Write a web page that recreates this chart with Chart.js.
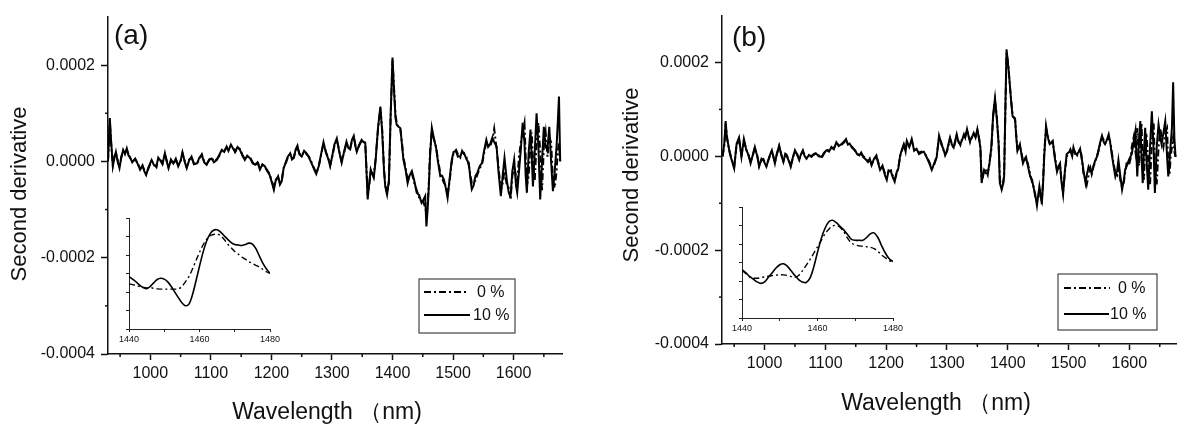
<!DOCTYPE html>
<html>
<head>
<meta charset="utf-8">
<script src="https://cdn.jsdelivr.net/npm/chart.js@4.4.0/dist/chart.umd.min.js"></script>
<style>
  html, body { margin: 0; padding: 0; background: #fff; overflow: hidden; }
  body { width: 1177px; height: 433px; position: relative; }
  canvas { position: absolute; }
</style>
</head>
<body>
<canvas id="mainA" width="590" height="433" style="left:0;top:0"></canvas>
<canvas id="mainB" width="580" height="433" style="left:600px;top:0"></canvas>
<canvas id="insetA" width="185" height="140" style="left:100px;top:208px"></canvas>
<canvas id="insetB" width="195" height="140" style="left:712px;top:196px"></canvas>
<script>
// ----------------------
// DATA (second derivative in units of 1e-6)
// ----------------------
const wlA = [
  930,933,935,938,941,943,946,949,952,955,
  958,961,964,966,970,975,979,983,987,990,
  993,997,1002,1006,1010,1013,1016,1020,1024,1027,
  1030,1034,1038,1042,1046,1050,1053,1057,1060,1064,
  1068,1072,1077,1081,1085,1089,1093,1097,1101,1105,
  1110,1114,1118,1122,1126,1129,1133,1137,1140,1144,
  1148,1152,1156,1160,1165,1169,1173,1177,1181,1185,
  1189,1193,1197,1201,1204,1207,1211,1214,1217,1220,
  1223,1227,1231,1234,1237,1240,1243,1246,1250,1254,
  1258,1262,1266,1270,1274,1278,1282,1286,1290,1294,
  1297,1301,1304,1308,1312,1316,1320,1324,1327,1330,
  1333,1336,1339,1341,1345,1349,1352,1355,1357,1359,
  1362,1364,1366,1369,1372,1376,1380,1383,1386,1388,
  1391,1394,1397,1400,1402,1405,1407,1410,1413,1416,
  1418,1422,1425,1428,1432,1436,1440,1444,1448,1451,
  1454,1456,1458,1460,1462,1465,1468,1472,1475,1479,
  1482,1485,1488,1491,1494,1498,1501,1505,1508,1512,
  1515,1518,1522,1526,1529,1531,1534,1537,1540,1544,
  1548,1551,1555,1558,1561,1565,1568,1572,1575,1579,
  1582,1585,1589,1592,1595,1598,1601,1604,1606,1609,
  1612,1615,1618,1620,1622,1625,1628,1630,1632,1635,
  1638,1641,1644,1647,1650,1653,1656,1659,1662,1665,
  1668,1671,1673,1675,1677
];
const a10 = [
  0,90,45,-10,10,20,0,-14,8,24,
  15,27,12,10,-2,6,-5,-17,-8,-20,
  -28,-12,3,-8,-10,8,3,-6,17,0,
  -14,4,-4,6,-10,2,19,-2,-14,2,
  10,-6,-4,8,13,-2,-7,4,6,-2,
  3,14,24,20,31,22,35,26,21,30,
  24,12,3,12,6,-4,-7,-2,-17,-6,
  -10,-20,-28,-45,-59,-40,-31,-48,-41,-15,
  -4,10,17,4,7,25,33,15,10,22,
  17,8,-3,-15,-26,-10,15,40,18,5,
  -10,15,35,48,20,-3,20,41,28,25,
  45,53,30,20,35,45,40,39,-20,-79,
  -40,-17,-25,-34,0,70,114,60,-20,-52,
  -69,-40,100,216,160,90,76,72,69,30,
  4,-20,-45,-30,-20,-40,-65,-70,-86,-80,
  -72,-135,-100,-52,10,70,50,28,0,-31,
  -30,-38,-55,-76,-40,4,20,21,10,11,
  20,18,5,-3,-40,-58,-50,-30,-24,-10,
  -3,20,45,30,35,50,40,31,-20,-72,
  -30,7,-41,-65,-72,-20,4,-50,-65,-20,
  25,80,40,-30,-65,20,66,10,-52,20,
  100,30,-79,0,72,30,25,72,0,-62,
  -20,31,80,135,0
];
const a0 = [
  0,85,40,-8,12,18,2,-12,10,22,
  18,25,14,8,0,4,-3,-15,-10,-18,
  -26,-14,1,-6,-12,6,5,-4,15,2,
  -12,2,-6,4,-8,0,17,0,-12,4,
  8,-4,-6,6,15,0,-5,2,8,0,
  5,12,22,22,29,24,33,28,19,28,
  26,14,5,10,8,-2,-9,0,-15,-8,
  -12,-18,-26,-42,-55,-38,-33,-45,-40,-14,
  -6,8,15,6,9,22,30,17,12,20,
  15,10,-1,-13,-24,-12,13,38,20,7,
  -8,13,32,45,22,0,18,38,30,27,
  42,50,32,22,33,43,42,37,-15,-70,
  -45,-20,-22,-30,5,65,110,65,-15,-48,
  -66,-45,95,210,165,95,80,70,66,35,
  8,-15,-40,-28,-25,-45,-60,-75,-80,-85,
  -95,-110,-90,-45,20,65,48,30,5,-25,
  -35,-45,-50,-68,-45,0,18,24,15,8,
  22,15,10,-8,-30,-45,-40,-40,-28,-15,
  -5,15,40,38,30,45,68,25,-10,-60,
  -45,-20,-50,-55,-80,-30,-10,-30,-45,10,
  40,60,80,10,-50,-30,40,60,0,-40,
  40,80,20,-60,30,60,10,50,40,-40,
  -55,-20,20,40,0
];

const wlB = [
  931,934,936,938,940,943,946,950,954,958,
  962,966,970,974,977,981,984,988,991,995,
  998,1003,1008,1012,1017,1020,1024,1028,1031,1034,
  1036,1040,1043,1047,1050,1054,1057,1060,1063,1066,
  1069,1073,1077,1081,1085,1089,1094,1098,1102,1106,
  1110,1114,1118,1122,1127,1131,1134,1137,1140,1144,
  1149,1152,1156,1159,1162,1166,1170,1173,1176,1180,
  1184,1187,1190,1194,1198,1201,1204,1208,1211,1214,
  1217,1220,1223,1226,1229,1232,1234,1238,1242,1246,
  1250,1254,1258,1262,1267,1271,1275,1279,1283,1287,
  1291,1294,1297,1300,1305,1308,1311,1316,1319,1322,
  1325,1328,1330,1333,1336,1338,1341,1344,1347,1350,
  1353,1355,1357,1359,1361,1364,1367,1370,1373,1376,
  1379,1382,1385,1387,1390,1392,1394,1396,1398,1401,
  1404,1406,1408,1412,1414,1416,1420,1423,1425,1428,
  1430,1433,1437,1440,1442,1445,1448,1450,1452,1454,
  1456,1458,1460,1463,1466,1469,1472,1474,1477,1481,
  1484,1486,1488,1491,1494,1497,1500,1503,1506,1508,
  1511,1514,1517,1519,1521,1523,1525,1528,1530,1533,
  1536,1538,1541,1544,1547,1549,1552,1555,1558,1560,
  1563,1566,1569,1571,1574,1577,1580,1582,1585,1588,
  1591,1593,1596,1599,1602,1604,1607,1610,1613,1616,
  1618,1620,1622,1624,1626,1628,1631,1634,1637,1640,
  1642,1645,1648,1651,1653,1656,1659,1662,1664,1666,
  1668,1670,1672,1674,1676
];
const b10 = [
  0,30,75,40,27,5,-8,-26,27,40,
  -1,37,13,2,-15,5,20,0,-22,-5,
  -8,-22,0,13,-15,5,23,0,-12,5,
  2,-10,-22,0,13,2,-8,5,13,0,
  -5,3,-1,5,6,0,-1,8,13,10,
  20,15,30,22,27,32,37,25,27,18,
  13,5,2,8,-1,-6,-12,-5,-19,-5,
  2,-15,-29,-20,-40,-50,-30,-33,-45,-54,
  -35,-26,2,15,26,10,33,20,37,12,
  16,5,8,10,-3,-15,-29,-15,-3,44,
  25,16,2,12,40,25,19,47,30,26,
  35,47,40,58,40,33,40,50,40,58,
  35,19,-57,-40,-29,-36,-36,-15,20,90,
  124,80,26,-57,-71,-60,-43,100,228,190,
  144,110,85,81,40,12,26,0,-15,-5,
  -1,-20,-43,-50,-64,-80,-105,-85,-64,-80,
  -102,-60,0,65,40,26,30,33,0,-33,
  -20,-15,-50,-81,-30,5,8,12,0,19,
  5,5,10,16,0,-15,-35,-57,-40,-22,
  -30,-36,-20,-8,0,12,30,44,30,26,
  35,47,25,5,-20,-43,-30,-8,-40,-71,
  -50,-29,-20,-8,0,5,30,54,-43,40,
  75,0,-57,10,61,0,-71,20,96,10,
  -78,20,68,40,26,50,75,0,-43,-10,
  26,60,158,40,-1
];
const b0 = [
  0,25,70,45,25,8,-6,-22,24,36,
  2,33,15,0,-12,3,18,2,-20,-8,
  -6,-20,-2,11,-13,3,21,2,-10,3,
  4,-8,-20,-2,11,4,-6,3,11,2,
  -3,1,1,3,8,2,-3,6,15,12,
  18,17,28,24,25,30,35,27,25,20,
  11,7,0,6,1,-4,-10,-7,-17,-7,
  0,-12,-26,-22,-36,-46,-32,-30,-42,-50,
  -38,-24,0,12,24,12,30,22,34,15,
  14,8,10,8,-1,-12,-26,-18,0,40,
  28,14,4,10,38,28,17,44,32,24,
  38,44,42,55,42,30,42,48,42,55,
  38,15,-50,-45,-32,-30,-40,-12,15,85,
  118,85,30,-50,-65,-65,-40,90,220,195,
  140,115,88,78,45,15,22,5,-10,-8,
  -5,-15,-40,-55,-60,-85,-95,-90,-70,-85,
  -95,-55,10,60,42,28,28,30,5,-28,
  -25,-20,-45,-75,-35,0,5,15,5,15,
  8,2,12,14,5,-20,-40,-45,-60,-40,
  -25,-38,-22,-12,2,10,25,40,35,28,
  32,40,30,10,-15,-35,-40,-20,-50,-65,
  -55,-35,-10,-20,-5,20,40,10,60,-20,
  30,70,-10,-50,20,50,-10,-60,30,70,
  -20,-60,20,60,40,20,50,60,-20,-40,
  0,20,40,10,-1
];

// inset: 1440-1480 nm zoom, unlabelled y axis (arbitrary units 0-6)
const insetWl = [
  1440,1441,1442,1443,1444,1445,1446,1447,1448,1449,
  1450,1451,1452,1453,1454,1455,1456,1457,1458,1459,
  1460,1461,1462,1463,1464,1465,1466,1467,1468,1469,
  1470,1471,1472,1473,1474,1475,1476,1477,1478,1479,
  1480
];
const insA10 = [
  2.84,2.70,2.55,2.38,2.25,2.18,2.30,2.50,2.68,2.75,
  2.70,2.55,2.30,2.00,1.70,1.42,1.26,1.35,1.85,2.60,
  3.40,4.15,4.75,5.15,5.35,5.37,5.25,5.05,4.85,4.68,
  4.58,4.55,4.52,4.58,4.65,4.60,4.35,3.95,3.55,3.25,
  3.02
];
const insA0 = [
  2.44,2.40,2.35,2.30,2.25,2.22,2.25,2.20,2.17,2.16,
  2.16,2.16,2.16,2.16,2.17,2.30,2.55,2.84,3.25,3.70,
  4.15,4.55,4.85,5.05,5.12,5.15,5.05,4.85,4.60,4.40,
  4.20,4.05,3.90,3.78,3.65,3.55,3.45,3.35,3.22,3.10,
  3.02
];
const insB10 = [
  2.61,2.45,2.25,2.10,1.95,1.87,1.95,2.20,2.45,2.70,
  2.88,2.93,2.80,2.55,2.30,2.08,1.95,1.92,2.15,2.75,
  3.55,4.30,4.85,5.20,5.28,5.15,4.95,4.75,4.50,4.25,
  4.20,4.20,4.20,4.35,4.55,4.60,4.35,3.90,3.50,3.20,
  3.05
];
const insB0 = [
  2.58,2.40,2.22,2.15,2.15,2.18,2.22,2.26,2.30,2.32,
  2.34,2.33,2.30,2.24,2.20,2.30,2.55,2.85,3.15,3.50,
  3.85,4.20,4.55,4.80,4.98,5.00,4.90,4.65,4.30,4.05,
  3.95,3.90,3.88,3.85,3.82,3.75,3.60,3.40,3.25,3.10,
  3.02
];

const seriesNames = ["0 %", "10 %"];
const xTitle = "Wavelength （nm)";
const yTitle = "Second derivative";
const xTickVals = [950, 1000, 1050, 1100, 1150, 1200, 1250, 1300, 1350, 1400, 1450, 1500, 1550, 1600, 1650];
const xLabelVals = [1000, 1100, 1200, 1300, 1400, 1500, 1600];
const yTickVals = [-400, -300, -200, -100, 0, 100, 200];
const yLabelVals = [-400, -200, 0, 200];
const insetXTickVals = [1440, 1450, 1460, 1470, 1480];
const insetXLabelVals = [1440, 1460, 1480];

// ----------------------
// SHARED STYLE
// ----------------------
const FONT = '"Liberation Sans", Arial, Helvetica, sans-serif';
Chart.defaults.font.family = FONT;
Chart.defaults.color = "#111";
const DASHDOT = [7, 3, 2, 3];

const pts = (xs, ys) => xs.map((x, i) => ({ x: x, y: ys[i] }));
const fixTicks = vals => s => { s.ticks = vals.map(v => ({ value: v })); };

// short minor ticks (major ones come from chart.js grid)
function minorTickPlugin(len) {
    return {
        id: "minorTicks",
        afterDraw(chart) {
            const ctx = chart.ctx;
            ctx.save();
            ctx.strokeStyle = "#111";
            ctx.lineWidth = 1.5;
            const sx = chart.scales.x, sy = chart.scales.y;
            sx.ticks.forEach((t, i) => {
                if (xLabelVals.includes(t.value)) return;
                const p = sx.getPixelForTick(i);
                ctx.beginPath(); ctx.moveTo(p, sx.top); ctx.lineTo(p, sx.top + len); ctx.stroke();
            });
            sy.ticks.forEach((t, i) => {
                if (yLabelVals.includes(t.value)) return;
                const p = sy.getPixelForTick(i);
                ctx.beginPath(); ctx.moveTo(sy.right, p); ctx.lineTo(sy.right - len, p); ctx.stroke();
            });
            ctx.restore();
        }
    };
}

// axis titles, framed legend box inside the plot, panel tag
function decorPlugin(L) {
    return {
        id: "decor",
        afterDraw(chart) {
            const ctx = chart.ctx;
            const lg = L.legend, tag = L.tag;
            ctx.save();
            ctx.fillStyle = "#111";
            ctx.textAlign = "center";
            ctx.textBaseline = "middle";
            ctx.font = "23px " + FONT;
            ctx.fillText(xTitle, L.xTitle.x, L.xTitle.y);
            ctx.save();
            ctx.translate(L.yTitle.x, L.yTitle.y);
            ctx.rotate(-Math.PI / 2);
            ctx.font = "22px " + FONT;
            ctx.fillText(yTitle, 0, 0);
            ctx.restore();

            ctx.textAlign = "left";
            ctx.strokeStyle = "#444";
            ctx.lineWidth = 1.2;
            ctx.strokeRect(lg.x, lg.y, lg.w, lg.h);
            chart.data.datasets.forEach((ds, i) => {
                const r = lg.rows[i];
                ctx.strokeStyle = "#000";
                ctx.lineWidth = 2;
                ctx.setLineDash(ds.borderDash || []);
                ctx.beginPath(); ctx.moveTo(r.x1, r.y); ctx.lineTo(r.x2, r.y); ctx.stroke();
                ctx.setLineDash([]);
                ctx.font = "16px " + FONT;
                ctx.fillText(ds.label, r.tx, r.y + 1);
            });
            ctx.font = "28px " + FONT;
            ctx.textBaseline = "alphabetic";
            ctx.fillText(tag.text, tag.x, tag.y);
            ctx.restore();
        }
    };
}

// ----------------------
// MAIN PANELS
// ----------------------
function mainChart(id, wl, s0, s10, L) {
    new Chart(document.getElementById(id), {
        type: "line",
        data: {
            datasets: [
                { label: seriesNames[0], data: pts(wl, s0), borderColor: "#000", borderWidth: 2, borderDash: DASHDOT },
                { label: seriesNames[1], data: pts(wl, s10), borderColor: "#000", borderWidth: 2 }
            ]
        },
        options: {
            responsive: false,
            animation: false,
            events: [],
            layout: { padding: { top: L.top, right: L.right, left: 0, bottom: 0 } },
            elements: { point: { radius: 0 }, line: { tension: 0 } },
            plugins: { legend: { display: false }, tooltip: { enabled: false } },
            scales: {
                x: {
                    type: "linear", min: 930, max: 1680,
                    afterBuildTicks: fixTicks(xTickVals),
                    afterFit: s => { s.height = L.xH; },
                    border: { color: "#111", width: 1.5 },
                    grid: { drawOnChartArea: false, tickLength: 6, tickWidth: 1.5,
                            tickColor: c => (xLabelVals.includes(c.tick.value) ? "#111" : "rgba(0,0,0,0)") },
                    ticks: { autoSkip: false, maxRotation: 0, padding: 4, font: { size: 16 },
                             callback: v => (xLabelVals.includes(v) ? String(v) : "") }
                },
                y: {
                    type: "linear", min: -400, max: 300,
                    afterBuildTicks: fixTicks(yTickVals),
                    afterFit: s => { s.width = L.yW; },
                    border: { color: "#111", width: 1.5 },
                    grid: { drawOnChartArea: false, tickLength: 7, tickWidth: 1.5,
                            tickColor: c => (yLabelVals.includes(c.tick.value) ? "#111" : "rgba(0,0,0,0)") },
                    ticks: { autoSkip: false, padding: 6, font: { size: 16 },
                             callback: v => (yLabelVals.includes(v) ? (v / 1e6).toFixed(4) : "") }
                }
            }
        },
        plugins: [minorTickPlugin(3), decorPlugin(L)]
    });
}

mainChart("mainA", wlA, a0, a10, {
    top: 17, right: 28, yW: 108, xH: 79,
    xTitle: { x: 327, y: 413 }, yTitle: { x: 20, y: 194 },
    legend: { x: 419, y: 279, w: 96, h: 54,
              rows: [{ y: 292, x1: 424, x2: 468, tx: 477 }, { y: 315, x1: 424, x2: 470, tx: 473 }] },
    tag: { text: "(a)", x: 114, y: 44 }
});
mainChart("mainB", wlB, b0, b10, {
    top: 7, right: 2, yW: 122, xH: 89,
    xTitle: { x: 336, y: 404 }, yTitle: { x: 32, y: 175 },
    legend: { x: 458, y: 274, w: 99, h: 56,
              rows: [{ y: 288, x1: 464, x2: 510, tx: 518 }, { y: 314, x1: 464, x2: 509, tx: 510 }] },
    tag: { text: "(b)", x: 132, y: 46 }
});

// ----------------------
// INSETS (1440-1480 nm)
// ----------------------
function insetChart(id, s0, s10, L) {
    new Chart(document.getElementById(id), {
        type: "line",
        data: {
            datasets: [
                { label: seriesNames[0], data: pts(insetWl, s0), borderColor: "#000", borderWidth: 1.4, borderDash: [6, 3, 2, 3] },
                { label: seriesNames[1], data: pts(insetWl, s10), borderColor: "#000", borderWidth: 1.6 }
            ]
        },
        options: {
            responsive: false,
            animation: false,
            events: [],
            layout: { padding: { top: L.top, right: L.right, left: 0, bottom: 0 } },
            elements: { point: { radius: 0 }, line: { tension: 0.3 } },
            plugins: { legend: { display: false }, tooltip: { enabled: false } },
            scales: {
                x: {
                    type: "linear", min: 1440, max: 1480,
                    afterBuildTicks: fixTicks(insetXTickVals),
                    afterFit: s => { s.height = L.xH; },
                    border: { color: "#222", width: 1 },
                    grid: { drawOnChartArea: false, tickLength: 3, tickColor: "#222" },
                    ticks: { autoSkip: false, maxRotation: 0, padding: 2, font: { size: 9 },
                             callback: v => (insetXLabelVals.includes(v) ? String(v) : "") }
                },
                y: {
                    type: "linear", min: 0, max: 6,
                    afterFit: s => { s.width = L.yW; },
                    border: { color: "#222", width: 1 },
                    grid: { drawOnChartArea: false, tickLength: 3, tickColor: "#222" },
                    ticks: { stepSize: 1, autoSkip: false, callback: () => "" }
                }
            }
        }
    });
}

insetChart("insetA", insA0, insA10, { top: 10, right: 15, yW: 29, xH: 19 });
insetChart("insetB", insB0, insB10, { top: 11, right: 14, yW: 30, xH: 18 });
</script>
</body>
</html>
